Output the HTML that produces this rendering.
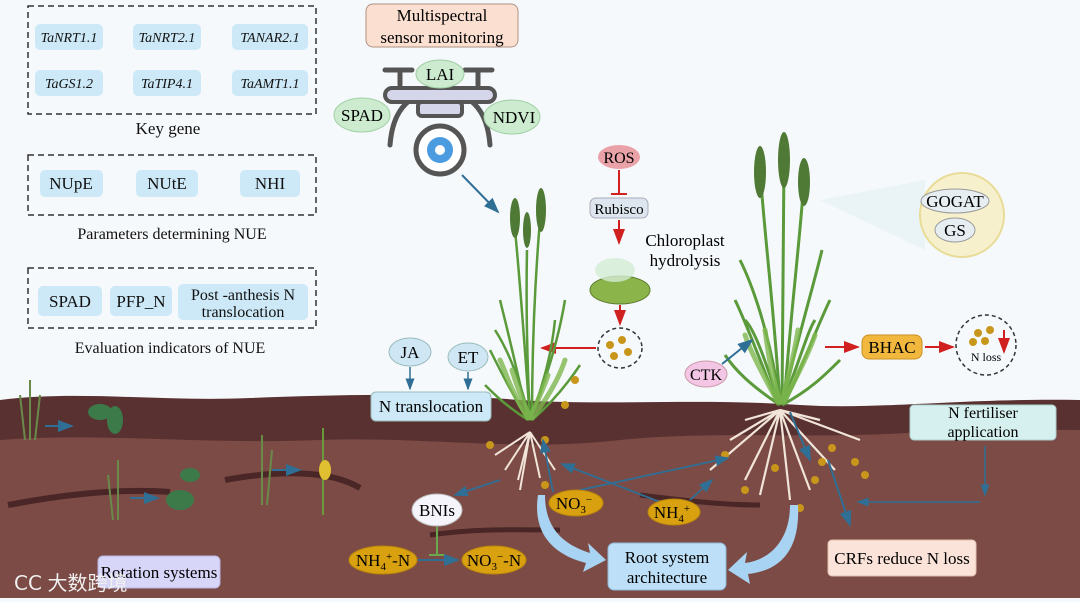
<!DOCTYPE html>
<html><head><meta charset="utf-8"><style>
html,body{margin:0;padding:0;background:#f6f9fc;}
svg{display:block;font-family:"Liberation Serif","Noto Serif CJK SC",serif;}
</style></head><body>
<svg width="1080" height="602" viewBox="0 0 1080 602" xmlns="http://www.w3.org/2000/svg">
<defs>
<marker id="ab" markerWidth="8" markerHeight="8" refX="7" refY="4" orient="auto"><path d="M0,1 L8,4 L0,7z" fill="#2f6f95"/></marker>
<marker id="ar" markerWidth="8" markerHeight="8" refX="7" refY="4" orient="auto"><path d="M0,1 L8,4 L0,7z" fill="#d02020"/></marker>
</defs>
<rect width="1080" height="602" fill="#f6f9fc"/>
<!-- soil -->
<path d="M0,400 C80,390 160,402 250,398 C330,395 420,392 520,400 C600,406 700,398 800,405 C880,410 960,398 1080,400 L1080,598 L0,598z" fill="#5a3131"/>
<path d="M0,440 C100,432 200,445 320,440 C420,436 520,452 620,440 C720,430 820,440 920,432 C980,428 1040,430 1080,430 L1080,598 L0,598z" fill="#7c4b45"/>
<path d="M8,505 C60,495 120,488 170,492" stroke="#4a2626" stroke-width="6" fill="none"/>
<path d="M225,480 C280,470 330,470 360,488" stroke="#4a2626" stroke-width="6" fill="none"/>
<path d="M430,535 C480,528 520,530 560,530" stroke="#4a2626" stroke-width="5" fill="none"/>
<path d="M640,495 C680,500 720,505 760,505" stroke="#4a2626" stroke-width="5" fill="none"/>
<rect x="0" y="598" width="1080" height="4" fill="#f6f9fc"/>

<!-- Left panels -->
<g font-size="17" fill="#111">
<rect x="28" y="6" width="288" height="108" fill="none" stroke="#333" stroke-width="1.5" stroke-dasharray="6,4"/>
<g fill="#cde9f7"><rect x="35" y="24" width="68" height="26" rx="5"/><rect x="133" y="24" width="68" height="26" rx="5"/><rect x="232" y="24" width="76" height="26" rx="5"/>
<rect x="35" y="70" width="68" height="26" rx="5"/><rect x="133" y="70" width="68" height="26" rx="5"/><rect x="232" y="70" width="76" height="26" rx="5"/></g>
<g font-style="italic" font-size="14" text-anchor="middle"><text x="69" y="42">TaNRT1.1</text><text x="167" y="42">TaNRT2.1</text><text x="270" y="42">TANAR2.1</text>
<text x="69" y="88">TaGS1.2</text><text x="167" y="88">TaTIP4.1</text><text x="270" y="88">TaAMT1.1</text></g>
<text x="168" y="134" text-anchor="middle">Key gene</text>
<rect x="28" y="155" width="288" height="60" fill="none" stroke="#333" stroke-width="1.5" stroke-dasharray="6,4"/>
<g fill="#cde9f7"><rect x="40" y="170" width="63" height="27" rx="5"/><rect x="136" y="170" width="62" height="27" rx="5"/><rect x="240" y="170" width="60" height="27" rx="5"/></g>
<g text-anchor="middle"><text x="71" y="189">NUpE</text><text x="167" y="189">NUtE</text><text x="270" y="189">NHI</text></g>
<text x="172" y="239" text-anchor="middle" font-size="16">Parameters determining NUE</text>
<rect x="28" y="268" width="288" height="60" fill="none" stroke="#333" stroke-width="1.5" stroke-dasharray="6,4"/>
<g fill="#cde9f7"><rect x="38" y="286" width="64" height="30" rx="5"/><rect x="110" y="286" width="62" height="30" rx="5"/><rect x="178" y="284" width="130" height="36" rx="5"/></g>
<g text-anchor="middle"><text x="70" y="307">SPAD</text><text x="141" y="307">PFP_N</text><text x="243" y="300" font-size="16">Post -anthesis N</text><text x="243" y="317" font-size="16">translocation</text></g>
<text x="170" y="353" text-anchor="middle" font-size="16">Evaluation indicators of NUE</text>
</g>

<!-- drone -->
<rect x="366" y="4" width="152" height="43" rx="7" fill="#fbe0d2" stroke="#b09080"/>
<text x="442" y="21" text-anchor="middle" font-size="17">Multispectral</text>
<text x="442" y="43" text-anchor="middle" font-size="17">sensor monitoring</text>
<g stroke="#555" stroke-width="5" fill="none" stroke-linecap="round">
<line x1="385" y1="70" x2="412" y2="70"/><line x1="465" y1="70" x2="492" y2="70"/>
<line x1="400" y1="70" x2="400" y2="85"/><line x1="478" y1="70" x2="478" y2="85"/>
<path d="M390,145 C392,120 400,108 410,100"/><path d="M490,145 C488,120 480,108 470,100"/>
</g>
<rect x="385" y="88" width="110" height="14" rx="7" fill="#d6d6ea" stroke="#555" stroke-width="4"/>
<rect x="418" y="102" width="44" height="14" rx="4" fill="#d6d6ea" stroke="#555" stroke-width="4"/>
<circle cx="440" cy="150" r="24" fill="#fff" stroke="#555" stroke-width="5"/>
<circle cx="440" cy="150" r="13" fill="#4a9be0"/><circle cx="440" cy="150" r="5" fill="#fff"/>
<g fill="#cdeccf" stroke="#9fcfa3"><ellipse cx="440" cy="74" rx="24" ry="14"/><ellipse cx="362" cy="115" rx="28" ry="17"/><ellipse cx="512" cy="117" rx="28" ry="17"/></g>
<g font-size="17" text-anchor="middle"><text x="440" y="80">LAI</text><text x="362" y="121">SPAD</text><text x="514" y="123">NDVI</text></g>
<line x1="462" y1="175" x2="498" y2="212" stroke="#2f6f95" stroke-width="2" marker-end="url(#ab)"/>

<!-- ROS chain -->
<ellipse cx="619" cy="157" rx="21" ry="12" fill="#e9a3a8"/>
<text x="619" y="163" text-anchor="middle" font-size="16">ROS</text>
<line x1="619" y1="170" x2="619" y2="194" stroke="#d02020" stroke-width="2"/><line x1="611" y1="194" x2="627" y2="194" stroke="#d02020" stroke-width="2"/>
<rect x="590" y="198" width="58" height="20" rx="6" fill="#dde6ee" stroke="#aab"/>
<text x="619" y="214" text-anchor="middle" font-size="15">Rubisco</text>
<line x1="619" y1="220" x2="619" y2="243" stroke="#d02020" stroke-width="2" marker-end="url(#ar)"/>
<ellipse cx="620" cy="290" rx="30" ry="14" fill="#8bb54a" stroke="#5d7a2a"/>
<ellipse cx="615" cy="270" rx="20" ry="12" fill="#d5ecd5" opacity=".8"/>
<text x="685" y="246" text-anchor="middle" font-size="17">Chloroplast</text>
<text x="685" y="266" text-anchor="middle" font-size="17">hydrolysis</text>
<line x1="620" y1="305" x2="620" y2="324" stroke="#d02020" stroke-width="2" marker-end="url(#ar)"/>
<ellipse cx="620" cy="348" rx="22" ry="20" fill="none" stroke="#333" stroke-width="1.5" stroke-dasharray="4,3"/>
<g fill="#c8961a"><circle cx="610" cy="345" r="4"/><circle cx="622" cy="340" r="4"/><circle cx="628" cy="352" r="4"/><circle cx="614" cy="356" r="4"/></g>
<line x1="596" y1="348" x2="542" y2="348" stroke="#d02020" stroke-width="2" marker-end="url(#ar)"/>

<!-- wheat plant 1 -->
<g stroke="#5a9a3a" stroke-width="2.5" fill="none">
<path d="M530,420 C525,350 520,280 515,230"/><path d="M532,420 C532,340 535,280 540,220"/><path d="M528,420 C515,360 505,320 500,300"/>
<path d="M530,420 C550,370 560,330 565,300"/><path d="M528,420 C510,390 500,370 490,350"/><path d="M532,420 C555,400 570,380 580,365"/>
<path d="M530,420 C520,380 508,350 495,330"/><path d="M530,420 C545,380 552,350 555,320"/><path d="M528,420 C505,405 495,395 485,385"/>
<path d="M530,420 C527,360 526,300 527,250"/>
</g>
<g stroke="#7fb84f" stroke-width="5" fill="none" stroke-linecap="round" opacity=".8">
<path d="M528,418 C510,390 505,370 500,360"/><path d="M532,418 C550,395 560,375 565,360"/><path d="M530,418 C520,395 515,380 512,370"/><path d="M530,418 C540,395 545,385 548,375"/>
</g>
<g fill="#4f7a35"><ellipse cx="515" cy="218" rx="5" ry="20"/><ellipse cx="541" cy="210" rx="5" ry="22"/><ellipse cx="527" cy="230" rx="4" ry="18"/></g>
<g stroke="#f1e4d8" stroke-width="2" fill="none">
<path d="M530,432 L505,470"/><path d="M530,432 L518,480"/><path d="M530,432 L540,478"/><path d="M530,432 L555,470"/><path d="M530,432 L520,490"/><path d="M530,432 L495,455"/></g>
<!-- wheat plant 2 -->
<g stroke="#5a9a3a" stroke-width="3" fill="none">
<path d="M780,405 C775,320 765,240 760,170"/><path d="M782,405 C782,320 784,240 784,160"/><path d="M784,405 C790,320 800,240 804,180"/>
<path d="M778,405 C760,360 745,320 735,300"/><path d="M784,405 C805,360 820,320 830,300"/><path d="M780,405 C750,385 735,370 725,355"/>
<path d="M782,405 C810,390 825,375 840,360"/><path d="M780,405 C770,330 750,280 740,260"/><path d="M782,405 C800,330 815,280 822,250"/>
<path d="M780,405 C765,360 755,330 745,320"/><path d="M782,405 C800,360 808,330 815,320"/>
</g>
<g stroke="#7fb84f" stroke-width="5" fill="none" stroke-linecap="round" opacity=".8">
<path d="M778,402 C760,370 750,350 745,335"/><path d="M784,402 C800,370 810,350 815,335"/><path d="M780,402 C770,370 768,350 765,330"/><path d="M782,402 C790,370 795,350 798,330"/>
</g>
<g fill="#4f7a35"><ellipse cx="760" cy="172" rx="6" ry="26"/><ellipse cx="784" cy="160" rx="6" ry="28"/><ellipse cx="804" cy="182" rx="6" ry="24"/></g>
<g stroke="#f1e4d8" stroke-width="2.2" fill="none">
<path d="M780,410 L730,440"/><path d="M780,410 L745,480"/><path d="M780,410 L760,495"/><path d="M780,410 L790,500"/><path d="M780,410 L810,490"/>
<path d="M780,410 L835,470"/><path d="M780,410 L860,440"/><path d="M780,410 L710,470"/><path d="M780,410 L820,420"/><path d="M780,410 L745,420"/></g>
<g fill="#c8961a"><circle cx="575" cy="380" r="4"/><circle cx="565" cy="405" r="4"/><circle cx="490" cy="445" r="4"/><circle cx="545" cy="440" r="4"/><circle cx="545" cy="485" r="4"/>
<circle cx="725" cy="455" r="4"/><circle cx="775" cy="468" r="4"/><circle cx="815" cy="480" r="4"/><circle cx="822" cy="462" r="4"/><circle cx="832" cy="448" r="4"/><circle cx="855" cy="462" r="4"/><circle cx="745" cy="490" r="4"/><circle cx="800" cy="508" r="4"/><circle cx="865" cy="475" r="4"/></g>
<line x1="828" y1="460" x2="850" y2="525" stroke="#2f6f95" stroke-width="2" marker-end="url(#ab)"/>
<line x1="790" y1="412" x2="810" y2="460" stroke="#2f6f95" stroke-width="2" marker-end="url(#ab)"/>

<!-- GOGAT -->
<path d="M820,200 L925,180 L925,250z" fill="#e3f0f4" opacity=".6"/>
<circle cx="962" cy="215" r="42" fill="#f7f0cc" stroke="#e8dc98" stroke-width="2"/>
<ellipse cx="955" cy="201" rx="34" ry="12" fill="#e6eef2" stroke="#999"/>
<ellipse cx="955" cy="230" rx="20" ry="12" fill="#e6eef2" stroke="#999"/>
<text x="955" y="207" text-anchor="middle" font-size="17">GOGAT</text>
<text x="955" y="236" text-anchor="middle" font-size="17">GS</text>

<!-- CTK/BHAC -->
<ellipse cx="706" cy="374" rx="21" ry="13" fill="#f2c6e4" stroke="#c9a"/>
<text x="706" y="380" text-anchor="middle" font-size="16">CTK</text>
<line x1="722" y1="364" x2="752" y2="340" stroke="#2f6f95" stroke-width="2" marker-end="url(#ab)"/>
<line x1="825" y1="347" x2="858" y2="347" stroke="#d02020" stroke-width="2" marker-end="url(#ar)"/>
<rect x="862" y="335" width="60" height="24" rx="7" fill="#f2b83e" stroke="#c89020"/>
<text x="892" y="353" text-anchor="middle" font-size="17">BHAC</text>
<line x1="925" y1="347" x2="953" y2="347" stroke="#d02020" stroke-width="2" marker-end="url(#ar)"/>
<circle cx="986" cy="345" r="30" fill="none" stroke="#333" stroke-width="1.5" stroke-dasharray="4,3"/>
<g fill="#c8961a"><circle cx="978" cy="333" r="4"/><circle cx="990" cy="330" r="4"/><circle cx="973" cy="342" r="4"/><circle cx="985" cy="341" r="4"/></g>
<line x1="1004" y1="330" x2="1004" y2="352" stroke="#d02020" stroke-width="2" marker-end="url(#ar)"/>
<text x="986" y="361" text-anchor="middle" font-size="12">N loss</text>

<!-- JA / ET -->
<g fill="#cfe7f5" stroke="#9bb"><ellipse cx="410" cy="352" rx="21" ry="14"/><ellipse cx="468" cy="357" rx="20" ry="14"/></g>
<text x="410" y="358" text-anchor="middle" font-size="17">JA</text><text x="468" y="363" text-anchor="middle" font-size="17">ET</text>
<line x1="410" y1="367" x2="410" y2="389" stroke="#2f6f95" stroke-width="1.5" marker-end="url(#ab)"/>
<line x1="468" y1="372" x2="468" y2="389" stroke="#2f6f95" stroke-width="1.5" marker-end="url(#ab)"/>
<rect x="371" y="392" width="120" height="29" rx="5" fill="#cde9f7" stroke="#9bb"/>
<text x="431" y="412" text-anchor="middle" font-size="17">N translocation</text>

<!-- small rotation plants -->
<g stroke="#6a8a4a" stroke-width="2" fill="none"><path d="M30,440 L30,380"/><path d="M25,440 L20,395"/><path d="M35,440 L40,395"/><path d="M118,520 L118,460"/><path d="M113,520 L108,475"/><path d="M262,505 L262,435"/><path d="M267,505 L272,450"/></g>
<g fill="#3c7a4a"><ellipse cx="100" cy="412" rx="12" ry="8"/><ellipse cx="115" cy="420" rx="8" ry="14"/><ellipse cx="180" cy="500" rx="14" ry="10"/><ellipse cx="190" cy="475" rx="10" ry="7"/></g>
<g stroke="#6a9a3a" stroke-width="2"><line x1="323" y1="428" x2="323" y2="515"/></g>
<ellipse cx="325" cy="470" rx="6" ry="10" fill="#e0c030"/>
<g stroke="#2f6f95" stroke-width="2"><line x1="45" y1="426" x2="72" y2="426" marker-end="url(#ab)"/><line x1="130" y1="498" x2="158" y2="498" marker-end="url(#ab)"/><line x1="272" y1="470" x2="300" y2="470" marker-end="url(#ab)"/></g>

<!-- N fertiliser -->
<rect x="910" y="405" width="146" height="35" rx="4" fill="#d5f0ee" stroke="#a9cfcc"/>
<text x="983" y="418" text-anchor="middle" font-size="16">N fertiliser</text>
<text x="983" y="437" text-anchor="middle" font-size="16">application</text>
<polyline points="985,446 985,495" fill="none" stroke="#2f6f95" stroke-width="1.5" marker-end="url(#ab)"/>
<line x1="980" y1="502" x2="858" y2="502" stroke="#2f6f95" stroke-width="1.5" marker-end="url(#ab)"/>

<!-- blue connectors in soil -->
<g stroke="#2f6f95" stroke-width="1.8" fill="none">
<line x1="500" y1="480" x2="455" y2="495" marker-end="url(#ab)"/>
<line x1="580" y1="490" x2="728" y2="458" marker-end="url(#ab)"/>
<line x1="660" y1="502" x2="562" y2="464" marker-end="url(#ab)"/>
<line x1="690" y1="500" x2="712" y2="480" marker-end="url(#ab)"/>
<line x1="553" y1="492" x2="543" y2="440" marker-end="url(#ab)"/>
</g>

<!-- BNIs -->
<ellipse cx="437" cy="510" rx="25" ry="16" fill="#f4f4fa" stroke="#bbb"/>
<text x="437" y="516" text-anchor="middle" font-size="17">BNIs</text>
<line x1="437" y1="527" x2="437" y2="555" stroke="#6aa84f" stroke-width="2"/><line x1="429" y1="555" x2="445" y2="555" stroke="#6aa84f" stroke-width="2"/>
<g fill="#d9a010" stroke="#b8860b"><ellipse cx="383" cy="560" rx="34" ry="14"/><ellipse cx="494" cy="560" rx="32" ry="14"/><ellipse cx="576" cy="503" rx="27" ry="13"/><ellipse cx="674" cy="512" rx="26" ry="13"/></g>
<line x1="418" y1="560" x2="458" y2="560" stroke="#2f6f95" stroke-width="2" marker-end="url(#ab)"/>
<g font-size="17" text-anchor="middle">
<text x="383" y="566">NH<tspan font-size="11" dy="4">4</tspan><tspan font-size="11" dy="-10">+</tspan><tspan dy="6">-N</tspan></text>
<text x="494" y="566">NO<tspan font-size="11" dy="4">3</tspan><tspan font-size="11" dy="-10">−</tspan><tspan dy="6">-N</tspan></text>
<text x="574" y="509">NO<tspan font-size="11" dy="4">3</tspan><tspan font-size="11" dy="-10">−</tspan></text>
<text x="672" y="518">NH<tspan font-size="11" dy="4">4</tspan><tspan font-size="11" dy="-10">+</tspan></text>
</g>

<!-- big arrows -->
<path d="M545,495 C545,530 565,545 590,553 L588,543 L606,560 L583,572 L586,563 C555,555 532,535 538,495z" fill="#a9d3f2"/>
<path d="M790,505 C790,540 770,560 745,563 L747,552 L728,570 L750,584 L748,574 C785,570 800,545 798,505z" fill="#a9d3f2"/>

<rect x="608" y="543" width="118" height="47" rx="6" fill="#bde0f8" stroke="#8fb8d8"/>
<text x="667" y="563" text-anchor="middle" font-size="17">Root system</text>
<text x="667" y="583" text-anchor="middle" font-size="17">architecture</text>
<rect x="828" y="540" width="148" height="36" rx="4" fill="#fbe3d9" stroke="#e0c0b0"/>
<text x="902" y="564" text-anchor="middle" font-size="17">CRFs reduce N loss</text>
<rect x="98" y="556" width="122" height="32" rx="5" fill="#d8d6f8" stroke="#b8b6e0"/>
<text x="159" y="578" text-anchor="middle" font-size="17">Rotation systems</text>
<text x="14" y="590" font-size="20" fill="#f0f0f0" font-family="Liberation Sans, Noto Sans CJK SC, sans-serif">ⅭⅭ 大数跨境</text>
</svg>
</body></html>
